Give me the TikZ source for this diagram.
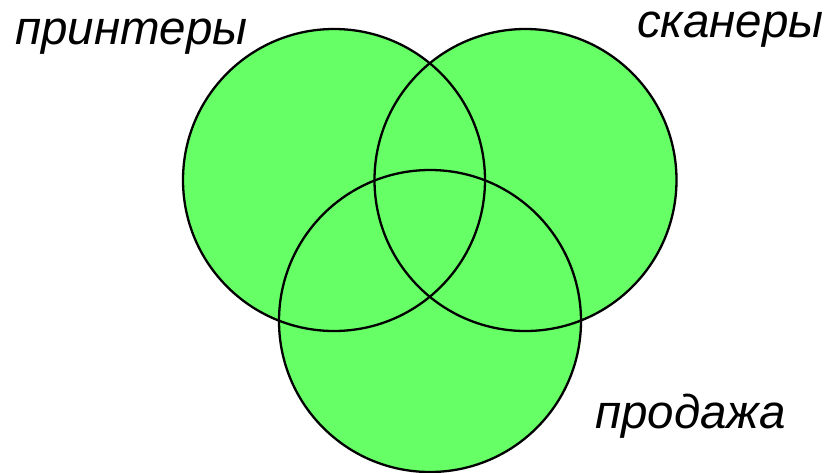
\documentclass[tikz,border=0pt]{standalone}
\usepackage{fontspec}
\setmainfont{Liberation Sans}
\definecolor{vgreen}{HTML}{66FF66}
\begin{document}
\begin{tikzpicture}[x=1pt,y=-1pt,
  setc/.style={circle,draw=black,line width=2.3pt,minimum size=302pt,inner sep=0pt},
  lbl/.style={anchor=base west,inner sep=0pt,font=\fontsize{47.5}{56}\selectfont\itshape}]
\useasboundingbox (0,0) rectangle (827,472);
\fill[vgreen] (334,180) circle (151);
\fill[vgreen] (525.5,180) circle (151);
\fill[vgreen] (430,321) circle (151);
\node[setc] (p) at (334,180) {};
\node[setc] (s) at (525.5,180) {};
\node[setc] (d) at (430,321) {};
\node[lbl] (tp) at (15,44) {принтеры};
\node[lbl] (ts) at (637,37) {сканеры};
\node[lbl] (td) at (595,428) {продажа};
\end{tikzpicture}
\end{document}
